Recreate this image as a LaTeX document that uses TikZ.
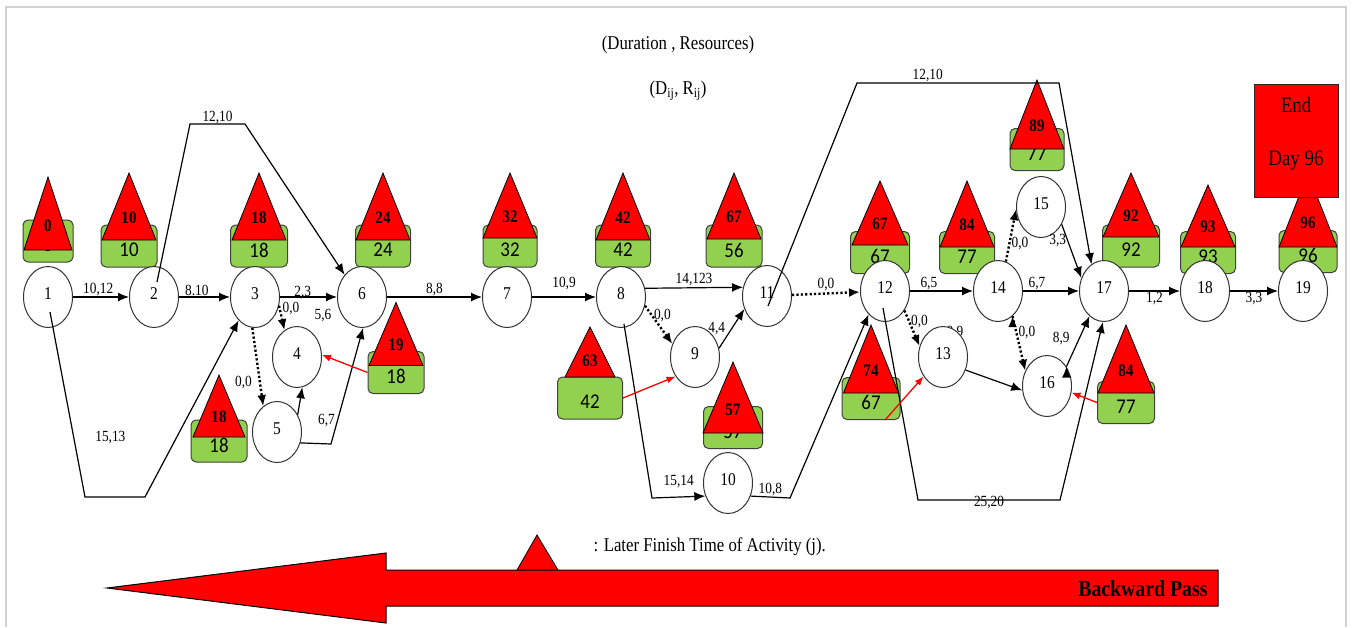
\documentclass[tikz,border=0pt]{standalone}
\usepackage{fontspec}
\setmainfont{Liberation Serif}[FakeStretch=0.86]
\newfontfamily\calibri{Carlito}[FakeStretch=0.9]
\usetikzlibrary{shapes.geometric,arrows.meta}
\definecolor{lfgreen}{HTML}{92D050}

\begin{document}
\begin{tikzpicture}
		[x=1pt, y=-1pt, >={Latex[length=11pt,width=9pt]},
		event/.style ={ellipse, draw=black!80, line width=1pt, fill=white, minimum width=49pt, minimum height=61pt, inner sep=0pt, text depth=7pt, font=\fontsize{18}{20}\selectfont},
		act/.style ={draw, line width=1.2pt, ->},
		dummy/.style ={act, line width=2.4pt, dash pattern=on 2.2pt off 2.2pt},
		cost/.style ={font=\fontsize{15.5}{17}\selectfont, inner sep=1pt},
		lft/.style ={draw=red, line width=1.3pt, -{Latex[length=9pt,width=7pt]}},
		late box/.style ={rectangle, draw=black!75, line width=1pt, fill=lfgreen, rounded corners=5pt, minimum height=42pt},
		late num/.style ={font=\calibri\fontsize{21}{23}\selectfont},
		early tri/.style ={fill=red, draw=black, line width=0.8pt},
		early num/.style ={font=\bfseries\fontsize{17.5}{19}\selectfont},
		pics/badge/.style n args={6}{code={
			\node[late box, minimum width=#3pt] (-box) at (0,0) {};
			\node[late num] at (0,4) {#2};
			\filldraw[early tri] (-#6,#4) -- (0,#5) -- (#6,#4) -- cycle;
			\node[early num] at (0,{#4+0.33*(#5-#4)}) {#1};
		}},
		]
		\useasboundingbox (0,0) rectangle (1352,627);
		\draw[black!18, line width=1.5pt] (6,627) -- (6,7) -- (1346,7) -- (1346,627);

		\node (T1) at (678,45) {\fontsize{19.5}{22}\selectfont (Duration , Resources)};
		\node (T2) at (678,91) {\fontsize{19.5}{22}\selectfont (D\textsubscript{ij}, R\textsubscript{ij})};

		% late finish badges
		\pic (B1) at (48,241) {badge={0}{0}{50}{9}{-64}{24}};
		\pic (B2) at (129,246) {badge={10}{10}{56}{-6}{-73}{27}};
		\pic (B3) at (259,246) {badge={18}{18}{57}{-6}{-73}{27}};
		\pic (B6) at (383,246) {badge={24}{24}{55}{-6}{-73}{27}};
		\pic (B4) at (396,372.5) {badge={19}{18}{56}{-7}{-70}{27}};
		\pic (B5) at (219,441) {badge={18}{18}{56}{-4}{-66}{26}};
		\pic (B7) at (510,246) {badge={32}{32}{54}{-8}{-73}{27}};
		\pic (B8) at (623,246) {badge={42}{42}{55}{-6}{-73}{27}};
		\pic (B11) at (734,246) {badge={67}{56}{56}{-7}{-73}{27}};
		\pic (B9) at (590,398) {badge={63}{42}{65}{-21}{-71}{25}};
		\pic (B10) at (733,427.5) {badge={57}{57}{59}{5.5}{-65.5}{30}};
		\pic (B12) at (880,252.5) {badge={67}{67}{59}{-7.5}{-71.5}{28}};
		\pic (B13) at (871,398.5) {badge={74}{67}{58}{-5.5}{-73.5}{27.5}};
		\pic (B14) at (967,252.5) {badge={84}{77}{55}{-5.5}{-71.5}{27}};
		\pic (B15) at (1037,149.5) {badge={89}{77}{54}{-0.5}{-69.5}{27}};
		\pic (B17) at (1131,246) {badge={92}{92}{57}{-9}{-73}{28}};
		\pic (B18) at (1208,252.5) {badge={93}{93}{55}{-5.5}{-67.5}{27}};
		\pic (B16) at (1126,402.5) {badge={84}{77}{57}{-9.5}{-77.5}{28}};
		\pic (B19) at (1308,251.5) {badge={96}{96}{58}{-4.5}{-78}{29}};

		\node[cost] (L89) at (955,333) {8,9};

		% events
		\draw (48,297) node[event] (E1) {1};
		\draw (154,297) node[event] (E2) {2};
		\draw (255,297) node[event] (E3) {3};
		\draw (297,357) node[event] (E4) {4};
		\draw (277,432) node[event] (E5) {5};
		\draw (362,297) node[event] (E6) {6};
		\draw (507,297) node[event] (E7) {7};
		\draw (621,297) node[event] (E8) {8};
		\draw (695,357) node[event] (E9) {9};
		\draw (728,483) node[event] (E10) {10};
		\draw (767,296) node[event] (E11) {11};
		\draw (885,291) node[event] (E12) {12};
		\draw (943,357) node[event] (E13) {13};
		\draw (998,291) node[event] (E14) {14};
		\draw (1041,207) node[event] (E15) {15};
		\draw (1047,386) node[event] (E16) {16};
		\draw (1104,291) node[event] (E17) {17};
		\draw (1205,291) node[event] (E18) {18};
		\draw (1303,291) node[event] (E19) {19};

		\node[rectangle, draw=black!85, line width=1pt, fill=red, minimum width=84pt, minimum height=113pt] (END) at (1296,140.5) {};
		\node[align=center, font=\fontsize{22}{26}\selectfont] (ENDT) at ([yshift=7pt]END.center) {End\\[27pt]Day 96};

		% activities
		\path[act]
		(E1) edge node[cost, above, pos=.45] {10,12} (E2)
		(E2) edge node[cost, above, pos=.35] {8.10} (E3)
		(E3) edge node[cost, above=-3pt, pos=.4] {2,3} (E6)
		(E5.40) edge (E4.-80)
		(E6) edge node[cost, above] {8,8} (E7)
		(E7) edge node[cost, above=6pt] {10,9} (E8)
		(E8.20) edge node[cost, above] {14,123} (E11.160)
		(E9.20) edge node[cost, pos=.3, above left=0pt] {4,4} (E11.-150)
		(E12) edge node[cost, above, pos=.3] {6,5} (E14)
		(E13.-30) edge (E16.-170)
		(E14) edge node[cost, above, pos=.25] {6,7} (E17)
		(E15.-40) edge node[cost, pos=.3, left=0pt] {3,3} (E17.150)
		(E16.45) edge node[cost, pos=.55, left=8pt] {8,9} (E17.-120)
		(E17) edge node[cost, below] {1,2} (E18)
		(E18) edge node[cost, below] {3,3} (E19);

		\draw[act] ([xshift=3pt,yshift=15pt]E2.center) -- (190,124) -- node[cost, above=-1pt] {12,10} (245,124) -- (E6.128);
		\draw[act] ([xshift=2pt,yshift=-15pt]E1.center) -- node[cost, pos=.68, right=20pt] {15,13} (85,497) -- (145,497) -- (E3.-125);
		\draw[act] (E5.-25) -- (331,444) -- node[cost, pos=.2, left=1pt] {6,7} (E6.-88);
		\draw[act] ([xshift=3pt,yshift=-27pt]E8.center) -- (652,498) -- node[cost, above=8pt] {15,14} (E10.-150);
		\draw[act] (E10.-30) -- node[cost, above] {10,8} (790,498) -- (E12.-125);
		\draw[act] ([xshift=1pt,yshift=-10pt]E11.center) -- (857,83) -- node[cost, above, pos=.35] {12,10} (1059,83) -- (E17.115);
		\draw[act] ([xshift=-2pt,yshift=-17pt]E12.center) -- (918,500) -- node[cost, below=-5pt] {25,20} (1060,500) -- (E17.-92);
		\node[cost] (L56) at (323,316) {5,6};

		% dummy activities
		\path[dummy]
		(E3.-20) edge node[cost, pos=.1, right=1pt] {0,0} (E4.115)
		(E3.-95) edge node[cost, pos=.7, left=6pt] {0,0} (E5.118)
		(E8.-20) edge node[cost, pos=.25, right=0pt] {0,0} (E9.150)
		(E11) edge node[cost, above] {0,0} (E12)
		(E12.-45) edge node[cost, pos=.3, right=0pt] {0,0} (E13.155)
		(E14.75) edge node[cost, pos=.35, right=0pt] {0,0} (E15.185)
		(E14.-60) edge node[cost, pos=.3, right=0pt] {0,0} (E16.145);

		% late finish pointers
		\draw[lft] (B4-box.west) -- (E4.5);
		\draw[lft] (B9-box.east) -- (E9.-135);
		\draw[lft] ([xshift=14pt]B13-box.south) -- (E13.-135);
		\draw[lft] (B16-box.west) -- (E16.-15);

		% backward pass
		\filldraw[fill=red, draw=black, line width=1pt] (107,588) -- (386,553) -- (386,570) -- (1218,570) -- (1218,606) -- (386,606) -- (386,623) -- cycle;
		\filldraw[early tri] (517,570) -- (537,535) -- (558,570) -- cycle;
		\node[anchor=west, font=\fontsize{19.5}{22}\selectfont] (LEG) at (590,547) {: Later Finish Time of Activity (j).};
		\node[anchor=east, font=\bfseries\fontsize{23}{26}\selectfont] (BP) at (1211,589) {Backward Pass};
	\end{tikzpicture}
\end{document}
